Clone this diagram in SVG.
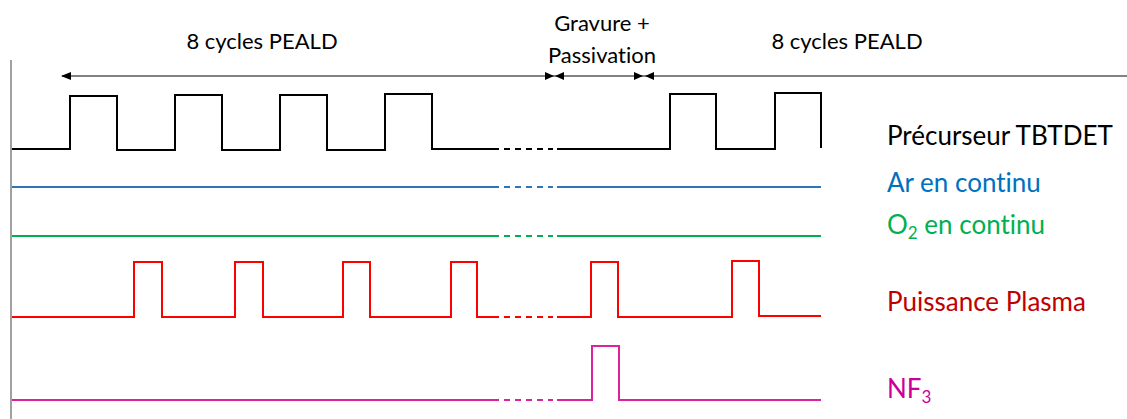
<svg xmlns="http://www.w3.org/2000/svg" width="1127" height="419" viewBox="0 0 1127 419">
<style>
text{font-family:Lato,"Liberation Sans",sans-serif;font-variant-ligatures:none;font-feature-settings:"liga" 0,"dlig" 0;}
.lbl{font-size:26px;}
.top{font-size:22px;fill:#000;text-anchor:middle;}
.sig{fill:none;stroke-width:2;stroke-linejoin:miter;}
.dash{fill:none;stroke-width:2;stroke-dasharray:6 5;}
.arrow{fill:#000;}
</style>
<rect width="1127" height="419" fill="#fff"/>
<g id="axis"><line x1="11" y1="60" x2="11" y2="419" stroke="#808080" stroke-width="1.5"/></g>
<g id="connectors">
<line x1="62" y1="76" x2="1127" y2="76" stroke="#595959" stroke-width="1.5"/>
<polygon class="arrow" points="61,76 71,72 71,80"/>
<polygon class="arrow" points="554,76 545,72 545,80"/>
<polygon class="arrow" points="555,76 564,72 564,80"/>
<polygon class="arrow" points="643,76 634,72 634,80"/>
<polygon class="arrow" points="645,76 654,72 654,80"/>
</g>
<g id="phase-labels">
<text class="top" x="262" y="49">8 cycles PEALD</text>
<text class="top" x="602" y="31">Gravure +</text>
<text class="top" x="602" y="63">Passivation</text>
<text class="top" x="847" y="49">8 cycles PEALD</text>
</g>
<g id="tbtdet">
<path class="sig" stroke="#000" d="M12,149 H70 V96 H117 V150 H175 V95 H222 V150 H280 V95 H327 V150 H385 V94 H432 V149 H493"/>
<path class="dash" stroke="#000" d="M493,149 H553"/>
<path class="sig" stroke="#000" d="M557,149 H670 V94 H716 V149 H775 V93 H821 V148"/>
<text class="lbl" x="887" y="145" fill="#000">Précurseur TBTDET</text>
</g>
<g id="ar">
<path class="sig" stroke="#2E75B6" d="M12,187 H493"/>
<path class="dash" stroke="#2E75B6" d="M493,187 H553"/>
<path class="sig" stroke="#2E75B6" d="M557,187 H821"/>
<text class="lbl" x="887" y="192" fill="#0070C0">Ar en continu</text>
</g>
<g id="o2">
<path class="sig" stroke="#00B050" d="M12,236 H493"/>
<path class="dash" stroke="#00B050" d="M493,236 H553"/>
<path class="sig" stroke="#00B050" d="M557,236 H821"/>
<text class="lbl" x="887" y="234" fill="#00B050">O<tspan font-size="17" dy="5">2</tspan><tspan dy="-5"> en continu</tspan></text>
</g>
<g id="plasma">
<path class="sig" stroke="#FF0000" d="M12,317 H134 V262 H162 V317 H235 V262 H263 V317 H343 V262 H370 V317 H451 V262 H477 V317 H493"/>
<path class="dash" stroke="#FF0000" d="M493,317 H553"/>
<path class="sig" stroke="#FF0000" d="M557,317 H591 V262 H618 V317 H732 V261 H759 V316 H821"/>
<text class="lbl" x="887" y="311" fill="#C00000">Puissance Plasma</text>
</g>
<g id="nf3">
<path class="sig" stroke="#D9239F" d="M12,400 H493"/>
<path class="dash" stroke="#D9239F" d="M493,400 H553"/>
<path class="sig" stroke="#D9239F" d="M557,400 H592 V346 H619 V400 H821"/>
<text class="lbl" x="887" y="398" fill="#CC0099">NF<tspan font-size="17" dy="5">3</tspan></text>
</g>
</svg>
